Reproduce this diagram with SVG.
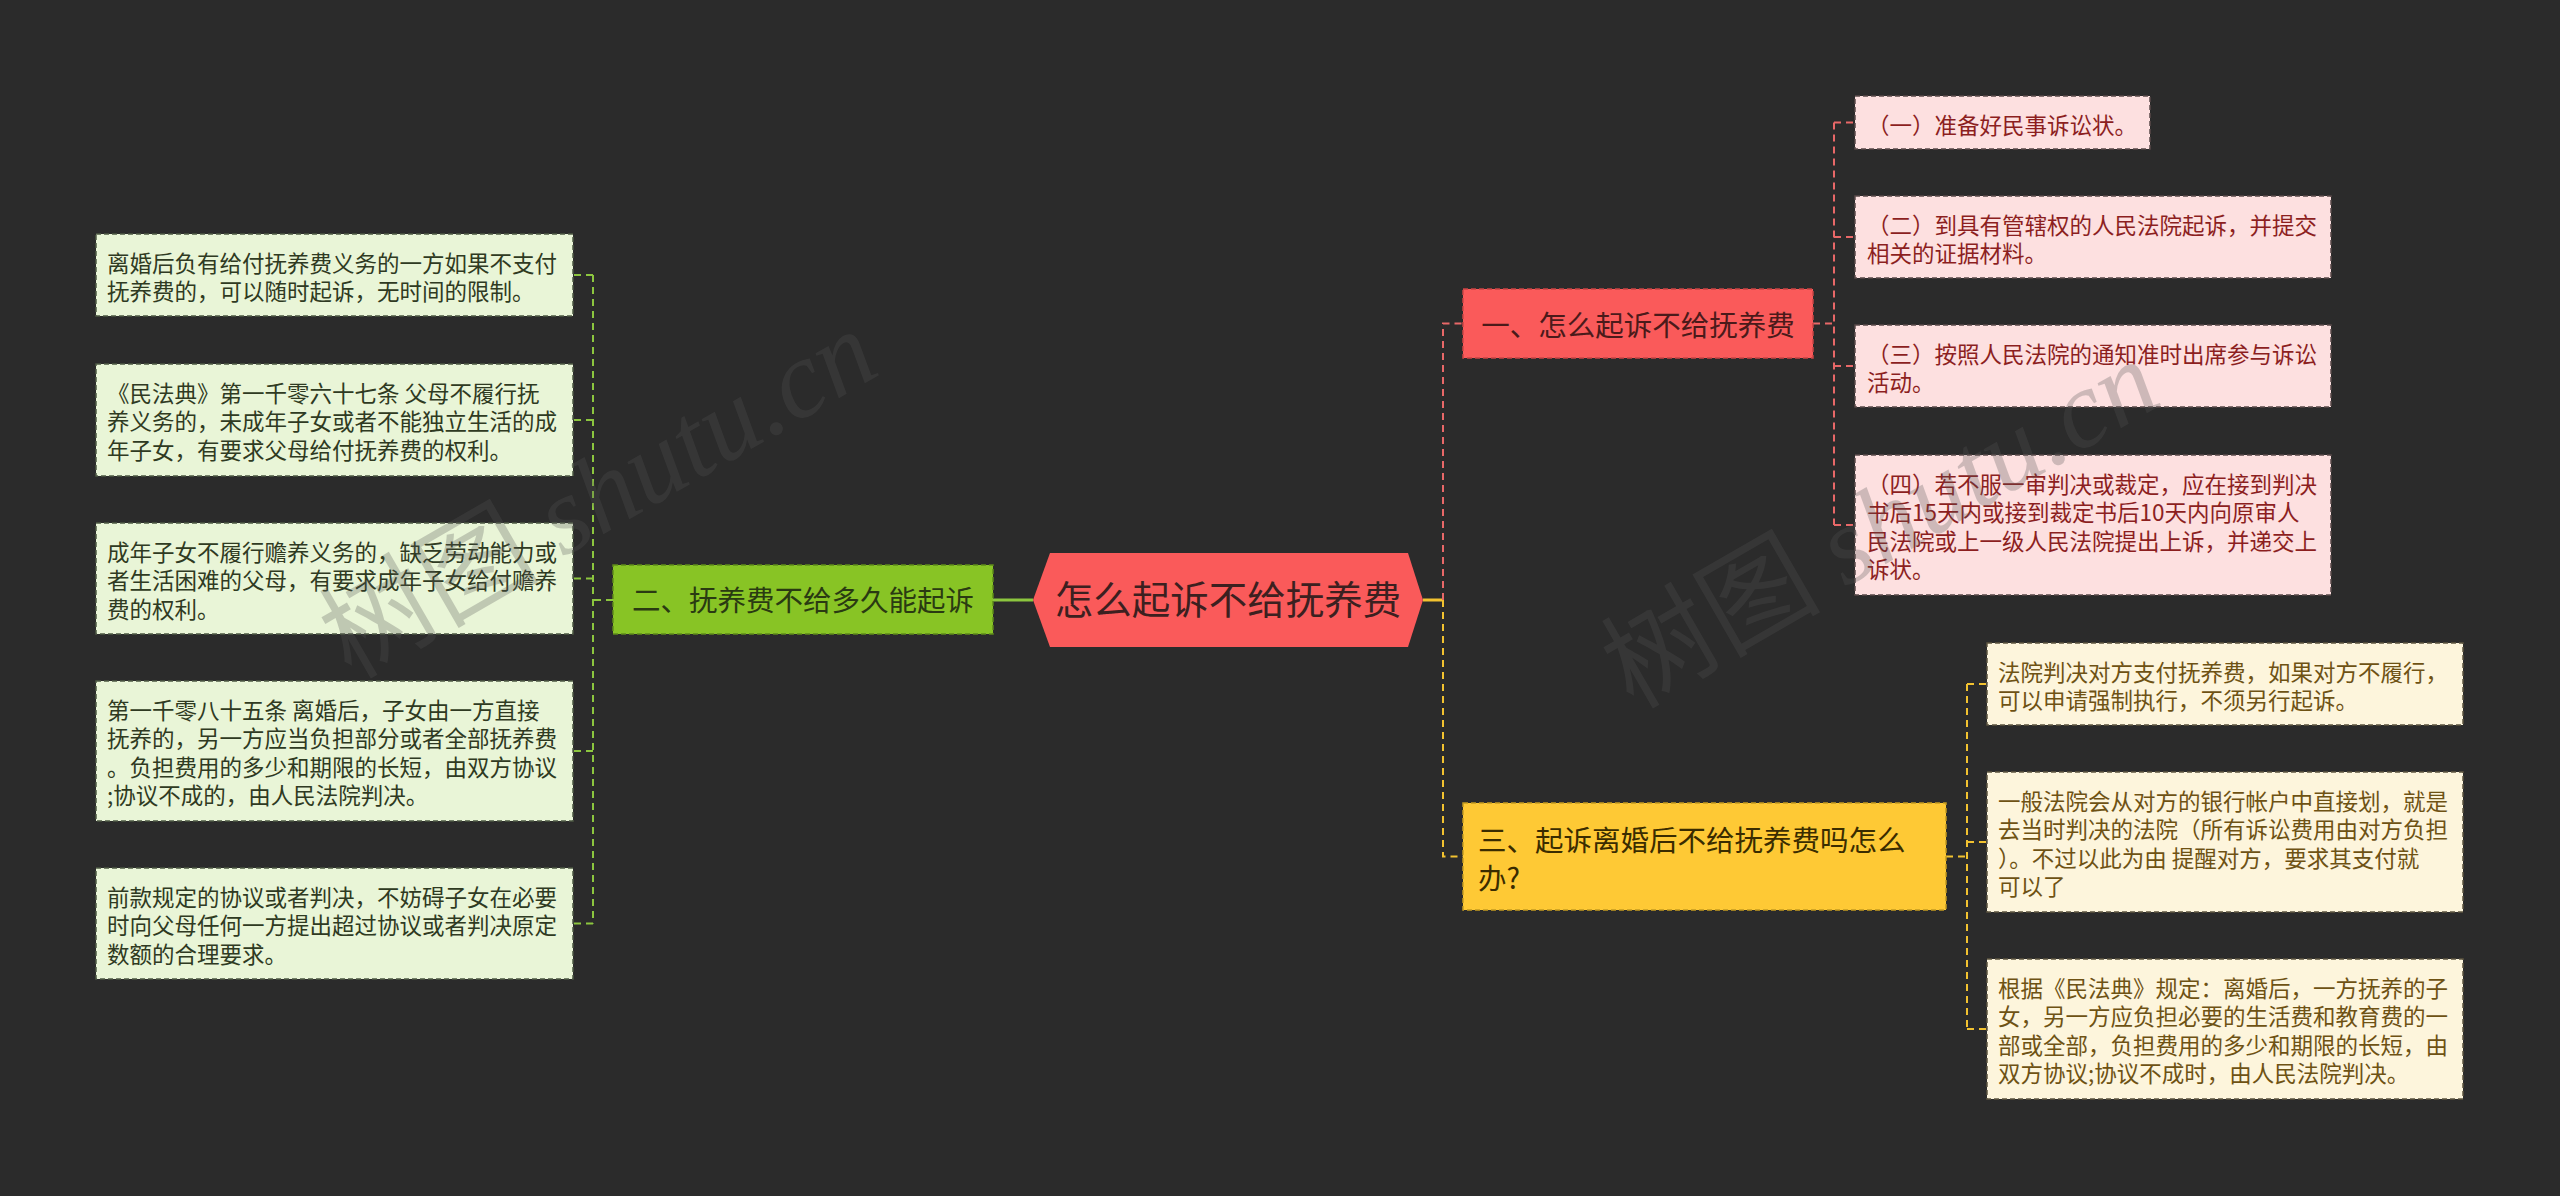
<svg xmlns="http://www.w3.org/2000/svg" width="2560" height="1196" viewBox="0 0 2560 1196">
<style>
text{font-family:"Noto Sans CJK SC","Microsoft YaHei","Noto Sans",sans-serif;}
.leaf{font-size:22.5px;}
.br{font-size:28.5px;}
.pinkL rect{fill:#fde0e0;stroke:#5a4a4a;stroke-width:1.5;stroke-dasharray:5 3;}
.pinkL text{fill:#8c1f1f;}
.greenL rect{fill:#e9f5d7;stroke:#4e5a44;stroke-width:1.5;stroke-dasharray:5 3;}
.greenL text{fill:#2f3a22;}
.yellowL rect{fill:#fdf5dc;stroke:#5e5640;stroke-width:1.5;stroke-dasharray:5 3;}
.yellowL text{fill:#6e5214;}
.cp{fill:none;stroke:#e86868;stroke-width:2;stroke-dasharray:7 5;}
.cg{fill:none;stroke:#8cc63f;stroke-width:2;stroke-dasharray:7 5;}
.cy{fill:none;stroke:#f2c230;stroke-width:2;stroke-dasharray:7 5;}
.wm{font-size:110px;fill:#555555;opacity:0.28;}
</style>
<rect x="0" y="0" width="2560" height="1196" fill="#2b2b2b"/>

<g id="connectors">
  <line x1="993" y1="600" x2="1033" y2="600" stroke="#8cc63f" stroke-width="3"/>
  <line x1="1423" y1="600" x2="1443" y2="600" stroke="#f2c230" stroke-width="3"/>
  <path class="cp" d="M1443 600 V323.5 H1463"/>
  <path class="cy" d="M1443 600 V856.5 H1463"/>
  <path class="cg" d="M613 600 H593"/>
  <path class="cg" d="M593 275 V923.5"/>
  <path class="cg" d="M593 275 H573 M593 420 H573 M593 578.5 H573 M593 751 H573 M593 923.5 H573"/>
  <path class="cp" d="M1813 323.5 H1834"/>
  <path class="cp" d="M1834 122.5 V525"/>
  <path class="cp" d="M1834 122.5 H1855 M1834 237 H1855 M1834 366 H1855 M1834 525 H1855"/>
  <path class="cy" d="M1946 856.5 H1967"/>
  <path class="cy" d="M1967 684 V1029"/>
  <path class="cy" d="M1967 684 H1987 M1967 842 H1987 M1967 1029 H1987"/>
</g>

<g id="center">
  <polygon points="1033,600 1050,553 1408,553 1423,600 1408,647 1050,647" fill="#fa5a5a"/>
  <text x="1228" y="614" text-anchor="middle" font-size="38.5" fill="#3c2020">怎么起诉不给抚养费</text>
</g>

<g id="branch1">
  <rect x="1463" y="289" width="350" height="69" fill="#fa5a5a" stroke="#c94444" stroke-width="1.5" stroke-dasharray="5 3"/>
  <text class="br" x="1638" y="336" text-anchor="middle" fill="#4b1a1a">一、怎么起诉不给抚养费</text>
</g>

<g id="branch2">
  <rect x="613" y="565" width="380" height="69" fill="#88c425" stroke="#5e8a1a" stroke-width="1.5" stroke-dasharray="5 3"/>
  <text class="br" x="803" y="611" text-anchor="middle" fill="#2a3a12">二、抚养费不给多久能起诉</text>
</g>

<g id="branch3">
  <rect x="1463" y="803" width="483" height="107" fill="#fec935" stroke="#c49a20" stroke-width="1.5" stroke-dasharray="5 3"/>
  <text class="br" x="1478" y="851" fill="#3a2c00">三、起诉离婚后不给抚养费吗怎么</text>
  <text class="br" x="1478" y="889" fill="#3a2c00">办?</text>
</g>

<g id="p1" class="pinkL">
  <rect x="1855" y="96" width="295" height="53"/>
  <text class="leaf" x="1867" y="133.5">（一）准备好民事诉讼状。</text>
</g>
<g id="p2" class="pinkL">
  <rect x="1855" y="196" width="476" height="82"/>
  <text class="leaf" x="1867" y="233.5">（二）到具有管辖权的人民法院起诉，并提交</text>
  <text class="leaf" x="1867" y="262">相关的证据材料。</text>
</g>
<g id="p3" class="pinkL">
  <rect x="1855" y="325" width="476" height="82"/>
  <text class="leaf" x="1867" y="362.5">（三）按照人民法院的通知准时出席参与诉讼</text>
  <text class="leaf" x="1867" y="391">活动。</text>
</g>
<g id="p4" class="pinkL">
  <rect x="1855" y="455" width="476" height="140"/>
  <text class="leaf" x="1867" y="492.5">（四）若不服一审判决或裁定，应在接到判决</text>
  <text class="leaf" x="1867" y="521">书后15天内或接到裁定书后10天内向原审人</text>
  <text class="leaf" x="1867" y="549.5">民法院或上一级人民法院提出上诉，并递交上</text>
  <text class="leaf" x="1867" y="578">诉状。</text>
</g>

<g id="y1" class="yellowL">
  <rect x="1987" y="643" width="476" height="82"/>
  <text class="leaf" x="1998" y="680.5">法院判决对方支付抚养费，如果对方不履行，</text>
  <text class="leaf" x="1998" y="709">可以申请强制执行，不须另行起诉。</text>
</g>
<g id="y2" class="yellowL">
  <rect x="1987" y="772" width="476" height="140"/>
  <text class="leaf" x="1998" y="809.5">一般法院会从对方的银行帐户中直接划，就是</text>
  <text class="leaf" x="1998" y="838">去当时判决的法院（所有诉讼费用由对方负担</text>
  <text class="leaf" x="1998" y="866.5">）。不过以此为由 提醒对方，要求其支付就</text>
  <text class="leaf" x="1998" y="895">可以了</text>
</g>
<g id="y3" class="yellowL">
  <rect x="1987" y="959" width="476" height="140"/>
  <text class="leaf" x="1998" y="996.5">根据《民法典》规定：离婚后，一方抚养的子</text>
  <text class="leaf" x="1998" y="1025">女，另一方应负担必要的生活费和教育费的一</text>
  <text class="leaf" x="1998" y="1053.5">部或全部，负担费用的多少和期限的长短，由</text>
  <text class="leaf" x="1998" y="1082">双方协议;协议不成时，由人民法院判决。</text>
</g>

<g id="g1" class="greenL">
  <rect x="96" y="234" width="477" height="82"/>
  <text class="leaf" x="107" y="271.5">离婚后负有给付抚养费义务的一方如果不支付</text>
  <text class="leaf" x="107" y="300">抚养费的，可以随时起诉，无时间的限制。</text>
</g>
<g id="g2" class="greenL">
  <rect x="96" y="364" width="477" height="112"/>
  <text class="leaf" x="107" y="401.5">《民法典》第一千零六十七条 父母不履行抚</text>
  <text class="leaf" x="107" y="430">养义务的，未成年子女或者不能独立生活的成</text>
  <text class="leaf" x="107" y="458.5">年子女，有要求父母给付抚养费的权利。</text>
</g>
<g id="g3" class="greenL">
  <rect x="96" y="523" width="477" height="111"/>
  <text class="leaf" x="107" y="560.5">成年子女不履行赡养义务的，缺乏劳动能力或</text>
  <text class="leaf" x="107" y="589">者生活困难的父母，有要求成年子女给付赡养</text>
  <text class="leaf" x="107" y="617.5">费的权利。</text>
</g>
<g id="g4" class="greenL">
  <rect x="96" y="681" width="477" height="140"/>
  <text class="leaf" x="107" y="718.5">第一千零八十五条 离婚后，子女由一方直接</text>
  <text class="leaf" x="107" y="747">抚养的，另一方应当负担部分或者全部抚养费</text>
  <text class="leaf" x="107" y="775.5">。负担费用的多少和期限的长短，由双方协议</text>
  <text class="leaf" x="107" y="804">;协议不成的，由人民法院判决。</text>
</g>
<g id="g5" class="greenL">
  <rect x="96" y="868" width="477" height="111"/>
  <text class="leaf" x="107" y="905.5">前款规定的协议或者判决，不妨碍子女在必要</text>
  <text class="leaf" x="107" y="934">时向父母任何一方提出超过协议或者判决原定</text>
  <text class="leaf" x="107" y="962.5">数额的合理要求。</text>
</g>

<g id="watermarks">
  <text class="wm" x="351" y="680" transform="rotate(-30 351 680)">树图 <tspan font-family="Liberation Serif, serif" font-style="italic">shutu.cn</tspan></text>
  <text class="wm" x="1633" y="710" transform="rotate(-30 1633 710)">树图 <tspan font-family="Liberation Serif, serif" font-style="italic">shutu.cn</tspan></text>
</g>
</svg>
